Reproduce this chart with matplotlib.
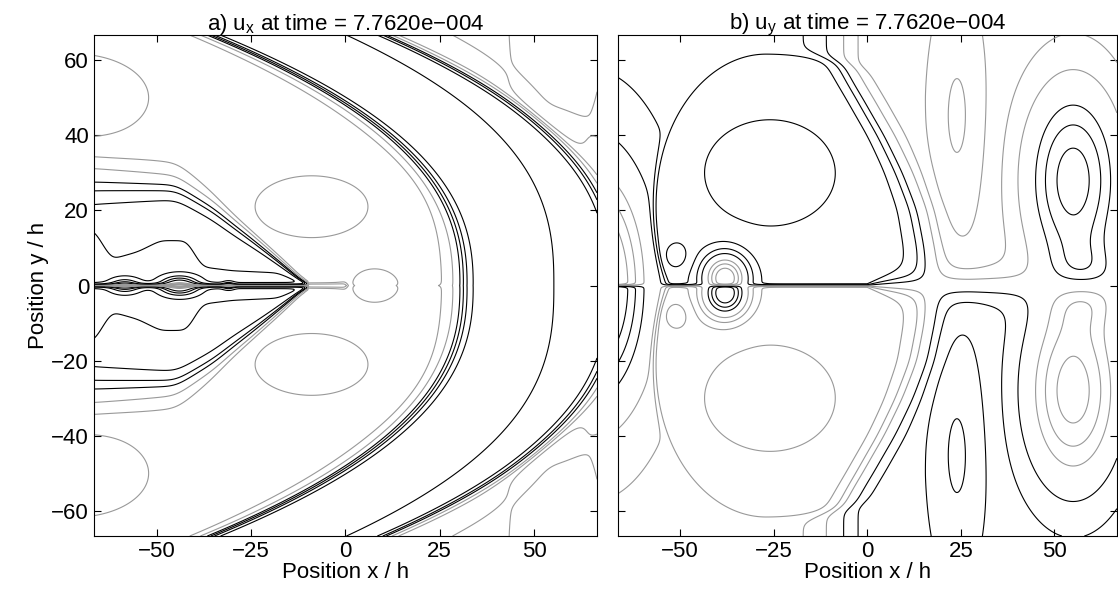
import numpy as np
import matplotlib
matplotlib.use('Agg')
import matplotlib.pyplot as plt

plt.rcParams['font.family'] = ['Liberation Sans', 'DejaVu Sans']
plt.rcParams['mathtext.fontset'] = 'custom'
plt.rcParams['mathtext.rm'] = 'Liberation Sans'
plt.rcParams['mathtext.it'] = 'Liberation Sans:italic'

# plotted window (x/h, y/h) and ticks
x_min, x_max = -66.7, 66.7
y_min, y_max = -66.7, 66.7
x_ticks = [-50, -25, 0, 25, 50]
y_ticks = [-60, -40, -20, 0, 20, 40, 60]
titles = ['a) u$_{\\rm x}$ at time = 7.7620e\u2212004',
          'b) u$_{\\rm y}$ at time = 7.7620e\u2212004']

# contour levels: negative ones black, positive ones grey
black_levels = [-1.0, -0.7, -0.45, -0.2]
gray_levels = [0.2, 0.45, 0.7, 1.0]

# ---- panel a) u_x (mirror symmetric about the crack line)
# wave fronts: x where they cut y = 0, x where they cut the top, shape power
ux_front_x0 = [31.0, 55.0, 72.0, 90.0]
ux_front_xtop = [-36.0, 0.0, 11.0, 28.0]
ux_front_pow = [2.4, 2.6, 2.5, 2.0]
ux_front_w = [3.2, 1.0, 2.4, 2.0]
# bundle that runs in from the left edge and ends at the tip
pin_x = [-66.7, -45.0, -35.0, -25.0, -18.0, -10.0]
pin_y = [28.0, 27.0, 21.0, 13.0, 7.0, 0.0]
# innermost black line round the crack
inner_x = [-66.7, -62.0, -55.0, -49.0, -42.0, -38.0, -30.0, -18.0, -11.0]
inner_y = [15.0, 7.0, 9.0, 12.0, 12.0, 5.0, 4.0, 3.5, 0.5]
# closed loops (upper half): x, y, amplitude, sx, sy
ux_lobe_x = [-44.0, -58.5, -31.0, -9.0, 8.0, -72.0]
ux_lobe_y = [0.0, 0.0, 0.0, 21.0, 0.0, 50.0]
ux_lobe_a = [1.3, 0.8, 0.6, 0.35, 0.35, 0.45]
ux_lobe_sx = [5.0, 4.0, 1.5, 20.0, 8.0, 22.0]
ux_lobe_sy = [2.5, 2.0, 1.0, 11.0, 5.5, 13.0]
ux_far_lobe = (56.0, 70.0, 0.75, 11.0, 30.0)

# ---- panel b) u_y (upper half; the lower half has the opposite sign)
kid_cx, kid_cy, kid_ry = -27.0, 20.0, 42.0
kid_rx_left, kid_rx_right = 30.0, 60.0
kid_right_y = [0.0, 10.0, 20.0, 30.0, 40.0, 50.0, 60.0, 66.7]
kid_right_x = [17.0, 16.0, 14.0, 10.0, 5.0, -1.0, -8.0, -12.0]
kid_lobe_x = [-26.0, -38.0, -51.0]
kid_lobe_y = [30.0, 2.0, 8.0]
kid_lobe_a = [-0.4, 1.8, -0.35]
kid_lobe_sx = [21.0, 6.0, 3.5]
kid_lobe_sy = [17.0, 6.5, 4.0]
right_lobe_x = [24.0, 55.0, 58.0]
right_lobe_y = [45.0, 28.0, 0.0]
right_lobe_a = [0.45, -1.45, -0.8]
right_lobe_sx = [7.0, 13.0, 10.0]
right_lobe_sy = [30.0, 26.0, 10.0]
left_lobe = (-74.0, 0.0, 2.0, 14.0, 30.0)


def step(s):
    return 0.5 * (1 + np.tanh(s))


def bump(X, Y, x0, y0, a, sx, sy):
    return a * np.exp(-((X - x0) / sx) ** 2 - ((Y - y0) / sy) ** 2)


def smooth_profile(xs, xp, yp, sigma):
    v = np.interp(xs, xp, yp)
    dx = xs[1] - xs[0]
    k = np.arange(-4 * sigma, 4 * sigma + dx, dx)
    ker = np.exp(-0.5 * (k / sigma) ** 2)
    ker /= ker.sum()
    pad = len(k) // 2
    vp = np.pad(v, pad, mode='edge')
    return np.convolve(vp, ker, mode='same')[pad:-pad]


x = np.linspace(x_min, x_max, 801)
y = np.linspace(y_min, y_max, 801)
X, Y = np.meshgrid(x, y)
Ya = np.abs(Y)
tip = pin_x[-1]

# ---- u_x
xf = [x0 - (x0 - xt) * (Ya / y_max) ** p
      for x0, xt, p in zip(ux_front_x0, ux_front_xtop, ux_front_pow)]
inA = step((xf[0] - X) / ux_front_w[0])
inE = step((xf[1] - X) / ux_front_w[1])
inB = step((xf[2] - X) / ux_front_w[2])
outC = step((X - xf[3]) / ux_front_w[3])

yb1 = smooth_profile(x, pin_x, pin_y, 2.0)
yb1 = np.where(x > tip, -0.8 * (x - tip), yb1)
yi1 = smooth_profile(x, inner_x, inner_y, 1.2)
yi1 = np.where(x > inner_x[-1], -1.0, yi1)
yb = yb1[None, :]
yi = yi1[None, :]
w = 0.4 + 0.1 * np.maximum(tip - X, 0)

inner = 0.5 - 1.35 * step((yb - Ya) / w) - 0.3 * step((yi - Ya) / 0.8)
inner += 1.45 * np.exp(-Ya / 0.35) * step(-X / 0.5)
for i in range(len(ux_lobe_x)):
    inner += bump(X, Ya, ux_lobe_x[i], ux_lobe_y[i], ux_lobe_a[i],
                  ux_lobe_sx[i], ux_lobe_sy[i])
mid = -0.85 - 0.4 * inE
outer = 0.55 + 0.25 * outC + bump(X, Ya, *ux_far_lobe)
ux = inA * inner + (1 - inA) * (inB * mid + (1 - inB) * outer)

# ---- u_y
kid_rx = np.where(X < kid_cx, kid_rx_left, kid_rx_right)
ek = np.hypot((X - kid_cx) / kid_rx, (Ya - kid_cy) / kid_ry)
yr = smooth_profile(y, kid_right_y, kid_right_x, 2.0)
xr = np.interp(Ya, y, yr)
K = step((1 - ek) / 0.03) * step((xr - X) / 5.0)
g_kid = -0.8 + 0 * X
for i in range(len(kid_lobe_x)):
    g_kid += bump(X, Ya, kid_lobe_x[i], kid_lobe_y[i], kid_lobe_a[i],
                  kid_lobe_sx[i], kid_lobe_sy[i])
g_right = 0.6 + 0 * X
for i in range(len(right_lobe_x)):
    g_right += bump(X, Ya, right_lobe_x[i], right_lobe_y[i], right_lobe_a[i],
                    right_lobe_sx[i], right_lobe_sy[i])
g_left = -0.5 + bump(X, Ya, *left_lobe)
bl = step((X + 8) / 6)
g = K * g_kid + (1 - K) * (bl * g_right + (1 - bl) * g_left)
e = 0.35 + 5 * np.tanh(np.maximum(X, 0) / 15)
uy = g * np.tanh(Y / e)

fig = plt.figure(figsize=(11.18, 6.05), dpi=100)
ax1 = fig.add_axes([0.084, 0.114, 0.450, 0.828])
ax2 = fig.add_axes([0.5525, 0.114, 0.4465, 0.828])

for ax, F, title in [(ax1, ux, titles[0]), (ax2, uy, titles[1])]:
    ax.contour(X, Y, F, levels=black_levels, colors='k', linewidths=0.8,
               linestyles='solid')
    ax.contour(X, Y, F, levels=gray_levels, colors='0.6', linewidths=0.8)
    ax.set_xlim(x_min, x_max)
    ax.set_ylim(y_min, y_max)
    ax.set_xticks(x_ticks)
    ax.set_yticks(y_ticks)
    ax.tick_params(direction='in', top=True, right=True, length=5,
                   labelsize=16)
    ax.set_title(title, fontsize=16, pad=4)
    ax.set_xlabel('Position x / h', fontsize=16, labelpad=0)

ax1.set_ylabel('Position y / h', fontsize=16, labelpad=2)
ax2.set_yticklabels([])

fig.savefig('out.png', dpi=100)
